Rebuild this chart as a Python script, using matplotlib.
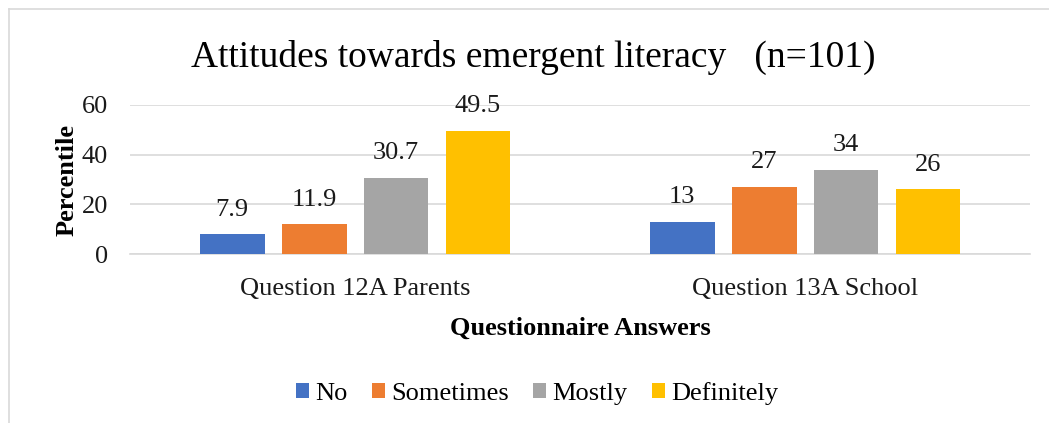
import matplotlib.pyplot as plt
import numpy as np

# data
questions = ['Question 12A Parents', 'Question 13A School']
answers = ['No', 'Sometimes', 'Mostly', 'Definitely']
no_vals = [7.9, 13]
sometimes_vals = [11.9, 27]
mostly_vals = [30.7, 34]
definitely_vals = [49.5, 26]
colors = ['#4472C4', '#ED7D31', '#A5A5A5', '#FFC000']

plt.rcParams['font.family'] = ['Liberation Serif', 'DejaVu Serif']

fig = plt.figure(figsize=(10.49, 4.23), dpi=100)
ax = fig.add_axes([0.124, 0.3995, 0.858, 0.3523])

x = np.arange(len(questions))
step = 0.182
width = 0.144
series = [no_vals, sometimes_vals, mostly_vals, definitely_vals]
for j, (vals, name, c) in enumerate(zip(series, answers, colors)):
    bars = ax.bar(x + (j - 1.5) * step, vals, width, color=c, label=name, zorder=3)
    ax.bar_label(bars, labels=[f'{v:g}' for v in vals], padding=10, fontsize=19, color='#1a1a1a')

ax.set_xlim(-0.5, 1.5)
ax.set_ylim(0, 60)
ax.set_yticks([0, 20, 40, 60])
ax.set_xticks(x)
ax.set_xticklabels(questions)
ax.tick_params(axis='both', length=0, labelsize=19, colors='#1a1a1a')
ax.tick_params(axis='y', pad=16)
ax.tick_params(axis='x', pad=17)
ax.grid(axis='y', color='#D9D9D9', linewidth=1.2, zorder=0)
for s in ['top', 'right', 'left']:
    ax.spines[s].set_visible(False)
ax.spines['bottom'].set_color('#D9D9D9')
ax.spines['bottom'].set_linewidth(1.2)

ax.set_ylabel('Percentile', fontsize=19, fontweight='bold', labelpad=2)
ax.set_xlabel('Questionnaire Answers', fontsize=19, fontweight='bold', labelpad=12)

fig.suptitle('Attitudes towards emergent literacy   (n=101)', fontsize=27, x=0.508, y=0.905)

fig.legend(loc='center', bbox_to_anchor=(0.512, 0.07), ncol=4, frameon=False,
           fontsize=19, handlelength=0.5, handleheight=0.5, handletextpad=0.25,
           columnspacing=0.9)

# chart border (top and left visible)
fig.add_artist(plt.Line2D([0.0086, 1], [0.979, 0.979], color='#D9D9D9', lw=1.2))
fig.add_artist(plt.Line2D([0.0086, 0.0086], [0, 0.979], color='#D9D9D9', lw=1.2))

fig.savefig('out.png', dpi=100)
